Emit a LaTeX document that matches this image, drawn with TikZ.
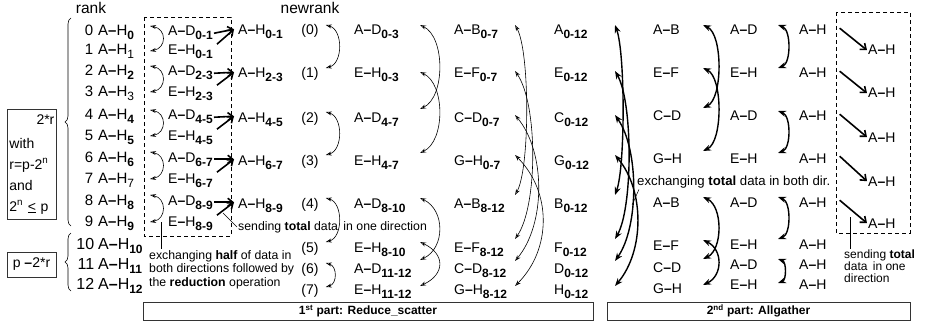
\documentclass[tikz,border=0pt]{standalone}
\usepackage{fontspec}
\setmainfont{Liberation Sans}
\usetikzlibrary{
    arrows.meta,
    positioning,
    decorations.pathreplacing
}

% block pair such as A--H, and its bold range index
\newcommand{\seg}[2]{#1\textbf{--}#2}
\newcommand{\rng}[1]{\raisebox{-4pt}{\fontsize{12pt}{12pt}\selectfont\bfseries #1}}

\begin{document}
\begin{tikzpicture}[
    x=1pt,
    y=1pt,
    every node/.style={
        font=\fontsize{14pt}{16pt}\selectfont,
        inner sep=1pt
    },
    cell/.style={
        anchor=base west
    },
    rankcell/.style={
        anchor=base west,
        font=\fontsize{15pt}{17pt}\selectfont
    },
    note/.style={
        font=\fontsize{12.3pt}{13.5pt}\selectfont,
        align=left
    },
    part/.style={
        draw=black!80,
        line width=0.8pt,
        minimum height=18pt,
        font=\fontsize{12pt}{14pt}\selectfont\bfseries
    },
    xchg/.style={
        {Stealth[open,length=6pt,width=4pt]}-{Stealth[open,length=6pt,width=4pt]},
        line width=0.6pt
    },
    xchgbold/.style={
        {Stealth[open,length=8pt,width=6pt]}-{Stealth[open,length=8pt,width=6pt]},
        line width=1.4pt
    },
    push/.style={
        -{Straight Barb[length=5pt,width=8pt]},
        line width=1.6pt
    },
    lead/.style={
        line width=0.5pt
    }
]

    \useasboundingbox (0,0) rectangle (925,-326);

    % Column heads
    \node[font=\fontsize{15.5pt}{17pt}\selectfont] (rank) at (91,-8) {rank};
    \node[font=\fontsize{15.5pt}{17pt}\selectfont] (newrank) at (310,-8) {newrank};

    % Ranks and their whole buffers
    \node[rankcell] (r0) at (97,-36) {\llap{0\hspace{5pt}}\seg AH\rng{0}};
    \node[rankcell] (r1) at (97,-55) {\llap{1\hspace{5pt}}\seg AH\rng{\mdseries 1}};
    \node[rankcell] (r2) at (97,-76) {\llap{2\hspace{5pt}}\seg AH\rng{2}};
    \node[rankcell] (r3) at (97,-96) {\llap{3\hspace{5pt}}\seg AH\rng{\mdseries 3}};
    \node[rankcell] (r4) at (97,-120) {\llap{4\hspace{5pt}}\seg AH\rng{4}};
    \node[rankcell] (r5) at (97,-140) {\llap{5\hspace{5pt}}\seg AH\rng{5}};
    \node[rankcell] (r6) at (97,-162) {\llap{6\hspace{5pt}}\seg AH\rng{6}};
    \node[rankcell] (r7) at (97,-183) {\llap{7\hspace{5pt}}\seg AH\rng{\mdseries 7}};
    \node[rankcell] (r8) at (97,-205) {\llap{8\hspace{5pt}}\seg AH\rng{8}};
    \node[rankcell] (r9) at (97,-226) {\llap{9\hspace{5pt}}\seg AH\rng{9}};
    \node[rankcell, font=\fontsize{16pt}{18pt}\selectfont] (r10) at (97,-249) {\llap{10\hspace{4pt}}\seg AH\rng{10}};
    \node[rankcell, font=\fontsize{16pt}{18pt}\selectfont] (r11) at (97,-269) {\llap{11\hspace{4pt}}\seg AH\rng{11}};
    \node[rankcell, font=\fontsize{16pt}{18pt}\selectfont] (r12) at (97,-289) {\llap{12\hspace{4pt}}\seg AH\rng{12}};

    % Braces and conditions
    \draw[decorate, decoration={brace, amplitude=6pt}, line width=0.6pt]
        (71,-226) -- (71,-18);
    \draw[decorate, decoration={brace, amplitude=6pt}, line width=0.6pt]
        (71,-291) -- (71,-233);

    \node[
        draw=black!80,
        line width=0.8pt,
        anchor=north west,
        text width=45pt,
        align=left,
        inner xsep=2pt,
        inner ysep=5pt,
        font=\fontsize{14pt}{21pt}\selectfont
    ] (cond) at (7,-109)
        {\hfill 2*r\\[3pt] with\\ r=p-2\textsuperscript{n}\\ and\\ 2\textsuperscript{n} \underline{<} p};

    \node[
        draw=black!80,
        line width=0.8pt,
        minimum width=49pt,
        minimum height=25pt,
        font=\fontsize{14pt}{16pt}\selectfont
    ] (rest) at (31.5,-264.5)
        {p \textbf{--}2*r};

    % Half exchange between neighbours
    \draw[dashed, dash pattern=on 4pt off 3pt, line width=0.7pt]
        (144,-17) rectangle (231,-236);

    \node[cell] (d01) at (167,-36) {\seg AD\rng{0-1}};
    \node[cell] (h01) at (167,-55) {\seg EH\rng{0-1}};
    \node[cell] (d23) at (167,-76) {\seg AD\rng{2-3}};
    \node[cell] (h23) at (167,-96) {\seg EH\rng{2-3}};
    \node[cell] (d45) at (167,-120) {\seg AD\rng{4-5}};
    \node[cell] (h45) at (167,-140) {\seg EH\rng{4-5}};
    \node[cell] (d67) at (167,-162) {\seg AD\rng{6-7}};
    \node[cell] (h67) at (167,-183) {\seg EH\rng{6-7}};
    \node[cell] (d89) at (167,-205) {\seg AD\rng{8-9}};
    \node[cell] (h89) at (167,-226) {\seg EH\rng{8-9}};

    \draw[xchg] ([xshift=-17pt,yshift=10pt]d01.base west)
        to[out=-10,in=10,distance=17pt] ([xshift=-17pt,yshift=4pt]h01.base west);
    \draw[xchg] ([xshift=-17pt,yshift=10pt]d23.base west)
        to[out=-10,in=10,distance=17pt] ([xshift=-17pt,yshift=4pt]h23.base west);
    \draw[xchg] ([xshift=-17pt,yshift=10pt]d45.base west)
        to[out=-10,in=10,distance=17pt] ([xshift=-17pt,yshift=4pt]h45.base west);
    \draw[xchg] ([xshift=-17pt,yshift=10pt]d67.base west)
        to[out=-10,in=10,distance=17pt] ([xshift=-17pt,yshift=4pt]h67.base west);
    \draw[xchg] ([xshift=-17pt,yshift=10pt]d89.base west)
        to[out=-10,in=10,distance=17pt] ([xshift=-17pt,yshift=4pt]h89.base west);

    % Reduced halves sent to the even rank
    \node[cell] (m0) at (237,-35) {\seg AH\rng{0-1}};
    \node[cell] (m1) at (237,-78) {\seg AH\rng{2-3}};
    \node[cell] (m2) at (237,-122) {\seg AH\rng{4-5}};
    \node[cell] (m3) at (237,-165) {\seg AH\rng{6-7}};
    \node[cell] (m4) at (237,-208) {\seg AH\rng{8-9}};

    \draw[push] ([xshift=3pt]h01.north east) -- ([xshift=-3pt,yshift=3pt]m0.west);
    \draw[push] (d01.east) -- ([xshift=-3pt,yshift=3pt]m0.west);
    \draw[push] ([xshift=3pt]h23.north east) -- ([xshift=-3pt,yshift=3pt]m1.west);
    \draw[push] (d23.east) -- ([xshift=-3pt,yshift=3pt]m1.west);
    \draw[push] ([xshift=3pt]h45.north east) -- ([xshift=-3pt,yshift=3pt]m2.west);
    \draw[push] (d45.east) -- ([xshift=-3pt,yshift=3pt]m2.west);
    \draw[push] ([xshift=3pt]h67.north east) -- ([xshift=-3pt,yshift=3pt]m3.west);
    \draw[push] (d67.east) -- ([xshift=-3pt,yshift=3pt]m3.west);
    \draw[push] ([xshift=3pt]h89.north east) -- ([xshift=-3pt,yshift=3pt]m4.west);
    \draw[push] (d89.east) -- ([xshift=-3pt,yshift=3pt]m4.west);

    \node[note, anchor=west] (send) at (237,-227)
        {sending \textbf{total} data\, in one direction};
    \coordinate (sendtip) at (223,-213);
    \draw[lead] (sendtip) -- (send.west);

    \node[note, anchor=north west] (half) at (148,-249)
        {exchanging \textbf{half} of data in\\both directions followed by\\the \textbf{reduction} operation};
    \coordinate (halftip) at (161,-222);
    \draw[lead] (halftip) -- (halftip |- half.north);

    % New ranks
    \node[anchor=base] (n0) at (310,-35) {(0)};
    \node[anchor=base] (n1) at (310,-78) {(1)};
    \node[anchor=base] (n2) at (310,-122) {(2)};
    \node[anchor=base] (n3) at (310,-165) {(3)};
    \node[anchor=base] (n4) at (310,-208) {(4)};
    \node[anchor=base] (n5) at (310,-252) {(5)};
    \node[anchor=base] (n6) at (310,-273) {(6)};
    \node[anchor=base] (n7) at (310,-294) {(7)};

    \draw[xchg] ([xshift=6pt,yshift=10pt]n0.base east)
        to[out=-15,in=15,distance=18pt] ([xshift=6pt,yshift=10pt]n1.base east);
    \draw[xchg] ([xshift=6pt,yshift=10pt]n2.base east)
        to[out=-15,in=15,distance=18pt] ([xshift=6pt,yshift=10pt]n3.base east);
    \draw[xchg] ([xshift=6pt,yshift=10pt]n4.base east)
        to[out=-15,in=15,distance=18pt] ([xshift=6pt,yshift=10pt]n5.base east);
    \draw[xchg] ([xshift=6pt,yshift=10pt]n6.base east)
        to[out=-15,in=15,distance=12pt] ([xshift=6pt,yshift=7pt]n7.base east);

    % Recursive halving
    \node[cell] (c0) at (353,-35) {\seg AD\rng{0-3}};
    \node[cell] (c1) at (353,-78) {\seg EH\rng{0-3}};
    \node[cell] (c2) at (353,-122) {\seg AD\rng{4-7}};
    \node[cell] (c3) at (353,-165) {\seg EH\rng{4-7}};
    \node[cell] (c4) at (353,-208) {\seg AD\rng{8-10}};
    \node[cell] (c5) at (353,-252) {\seg EH\rng{8-10}};
    \node[cell] (c6) at (353,-273) {\seg AD\rng{11-12}};
    \node[cell] (c7) at (353,-294) {\seg EH\rng{11-12}};

    \draw[xchg] ([xshift=67pt,yshift=10pt]c0.base west)
        to[out=-25,in=25,distance=28pt] ([xshift=67pt,yshift=13pt]c2.base west);
    \draw[xchg] ([xshift=67pt,yshift=6pt]c1.base west)
        to[out=-25,in=25,distance=28pt] ([xshift=67pt,yshift=12pt]c3.base west);
    \draw[xchg] ([xshift=67pt,yshift=10pt]c4.base west)
        to[out=-25,in=25,distance=28pt] ([xshift=67pt,yshift=13pt]c6.base west);
    \draw[xchg] ([xshift=67pt,yshift=10pt]c5.base west)
        to[out=-25,in=25,distance=28pt] ([xshift=67pt,yshift=8pt]c7.base west);

    \node[cell] (b0) at (453,-35) {\seg AB\rng{0-7}};
    \node[cell] (b1) at (453,-78) {\seg EF\rng{0-7}};
    \node[cell] (b2) at (453,-122) {\seg CD\rng{0-7}};
    \node[cell] (b3) at (453,-165) {\seg GH\rng{0-7}};
    \node[cell] (b4) at (453,-208) {\seg AB\rng{8-12}};
    \node[cell] (b5) at (453,-252) {\seg EF\rng{8-12}};
    \node[cell] (b6) at (453,-273) {\seg CD\rng{8-12}};
    \node[cell] (b7) at (453,-294) {\seg GH\rng{8-12}};

    \draw[xchg] ([xshift=62pt,yshift=10pt]b0.base west)
        to[out=-60,in=60,distance=30pt] ([xshift=62pt,yshift=13pt]b4.base west);
    \draw[xchg] ([xshift=62pt,yshift=7pt]b1.base west)
        to[out=-55,in=55,distance=40pt] ([xshift=62pt,yshift=13pt]b5.base west);
    \draw[xchg] ([xshift=62pt,yshift=7pt]b2.base west)
        to[out=-50,in=50,distance=48pt] ([xshift=62pt,yshift=12pt]b6.base west);
    \draw[xchg] ([xshift=62pt,yshift=10pt]b3.base west)
        to[out=-45,in=45,distance=52pt] ([xshift=62pt,yshift=8pt]b7.base west);

    % Fully reduced blocks
    \node[cell] (s0) at (553,-35) {A\rng{0-12}};
    \node[cell] (s1) at (553,-78) {E\rng{0-12}};
    \node[cell] (s2) at (553,-122) {C\rng{0-12}};
    \node[cell] (s3) at (553,-165) {G\rng{0-12}};
    \node[cell] (s4) at (553,-208) {B\rng{0-12}};
    \node[cell] (s5) at (553,-252) {F\rng{0-12}};
    \node[cell] (s6) at (553,-273) {D\rng{0-12}};
    \node[cell] (s7) at (553,-294) {H\rng{0-12}};

    \draw[xchgbold] ([xshift=62pt,yshift=10pt]s0.base west)
        to[out=-70,in=70,distance=30pt] ([xshift=62pt,yshift=13pt]s4.base west);
    \draw[xchgbold] ([xshift=62pt,yshift=7pt]s1.base west)
        to[out=-60,in=60,distance=36pt] ([xshift=62pt,yshift=13pt]s5.base west);
    \draw[xchgbold] ([xshift=62pt,yshift=7pt]s2.base west)
        to[out=-55,in=55,distance=42pt] ([xshift=62pt,yshift=12pt]s6.base west);
    \draw[xchgbold] ([xshift=62pt,yshift=10pt]s3.base west)
        to[out=-50,in=50,distance=46pt] ([xshift=62pt,yshift=8pt]s7.base west);

    \node[note, anchor=west, font=\fontsize{13.2pt}{15pt}\selectfont] (both) at (636,-182)
        {exchanging \textbf{total} data in both dir.};
    \coordinate (bothtip) at (632,-205);
    \draw[lead] (bothtip) -- ([xshift=3pt]both.south west);

    % Recursive doubling
    \node[cell] (u0) at (652,-35) {\seg AB};
    \node[cell] (u1) at (652,-78) {\seg EF};
    \node[cell] (u2) at (652,-121) {\seg CD};
    \node[cell] (u3) at (652,-163) {\seg GH};
    \node[cell] (u4) at (652,-207) {\seg AB};
    \node[cell] (u5) at (652,-250) {\seg EF};
    \node[cell] (u6) at (652,-272) {\seg CD};
    \node[cell] (u7) at (652,-293) {\seg GH};

    \draw[xchgbold] ([xshift=51pt,yshift=10pt]u0.base west)
        to[out=-25,in=25,distance=22pt] ([xshift=51pt,yshift=13pt]u2.base west);
    \draw[xchgbold] ([xshift=51pt,yshift=10pt]u1.base west)
        to[out=-25,in=25,distance=22pt] ([xshift=51pt,yshift=12pt]u3.base west);
    \draw[xchgbold] ([xshift=51pt,yshift=10pt]u4.base west)
        to[out=-25,in=25,distance=22pt] ([xshift=51pt,yshift=13pt]u6.base west);
    \draw[xchgbold] ([xshift=51pt,yshift=10pt]u5.base west)
        to[out=-25,in=25,distance=22pt] ([xshift=51pt,yshift=8pt]u7.base west);

    \node[cell] (v0) at (729,-35) {\seg AD};
    \node[cell] (v1) at (729,-78) {\seg EH};
    \node[cell] (v2) at (729,-121) {\seg AD};
    \node[cell] (v3) at (729,-163) {\seg EH};
    \node[cell] (v4) at (729,-207) {\seg AD};
    \node[cell] (v5) at (729,-249) {\seg EH};
    \node[cell] (v6) at (729,-269) {\seg AD};
    \node[cell] (v7) at (729,-289) {\seg EH};

    \draw[xchgbold] ([xshift=49pt,yshift=10pt]v0.base west)
        to[out=-20,in=20,distance=14pt] ([xshift=49pt,yshift=10pt]v1.base west);
    \draw[xchgbold] ([xshift=49pt,yshift=10pt]v2.base west)
        to[out=-20,in=20,distance=14pt] ([xshift=49pt,yshift=10pt]v3.base west);
    \draw[xchgbold] ([xshift=49pt,yshift=10pt]v4.base west)
        to[out=-20,in=20,distance=14pt] ([xshift=49pt,yshift=10pt]v5.base west);
    \draw[xchgbold] ([xshift=49pt,yshift=10pt]v6.base west)
        to[out=-20,in=20,distance=9pt] ([xshift=49pt,yshift=6pt]v7.base west);

    \node[cell] (g0) at (798,-35) {\seg AH};
    \node[cell] (g1) at (798,-78) {\seg AH};
    \node[cell] (g2) at (798,-121) {\seg AH};
    \node[cell] (g3) at (798,-163) {\seg AH};
    \node[cell] (g4) at (798,-207) {\seg AH};
    \node[cell] (g5) at (798,-249) {\seg AH};
    \node[cell] (g6) at (798,-269) {\seg AH};
    \node[cell] (g7) at (798,-289) {\seg AH};

    % Results sent back to the dropped ranks
    \draw[dashed, dash pattern=on 4pt off 3pt, line width=0.7pt]
        (836,-12) rectangle (910,-233);

    \node[cell] (k0) at (867,-55) {\seg AH};
    \node[cell] (k1) at (867,-98) {\seg AH};
    \node[cell] (k2) at (867,-142) {\seg AH};
    \node[cell] (k3) at (867,-186) {\seg AH};
    \node[cell] (k4) at (867,-228) {\seg AH};

    \draw[push] ([xshift=12pt,yshift=2pt]g0.east) -- (k0.west);
    \draw[push] ([xshift=12pt,yshift=2pt]g1.east) -- (k1.west);
    \draw[push] ([xshift=12pt,yshift=2pt]g2.east) -- (k2.west);
    \draw[push] ([xshift=12pt,yshift=2pt]g3.east) -- (k3.west);
    \draw[push] ([xshift=12pt,yshift=2pt]g4.east) -- (k4.west);

    \node[note, anchor=north west, font=\fontsize{12pt}{12pt}\selectfont] (sendback) at (843,-249)
        {sending \textbf{total}\\data\, in one\\direction};
    \coordinate (backtip) at (850,-217);
    \draw[lead] (backtip) -- (backtip |- sendback.north);

    % The two phases
    \node[part, minimum width=450pt] (reduce) at (368,-311)
        {1\textsuperscript{st} part: Reduce\_scatter};
    \node[part, minimum width=303pt] (gather) at (758.5,-311)
        {2\textsuperscript{nd} part: Allgather};

\end{tikzpicture}
\end{document}
